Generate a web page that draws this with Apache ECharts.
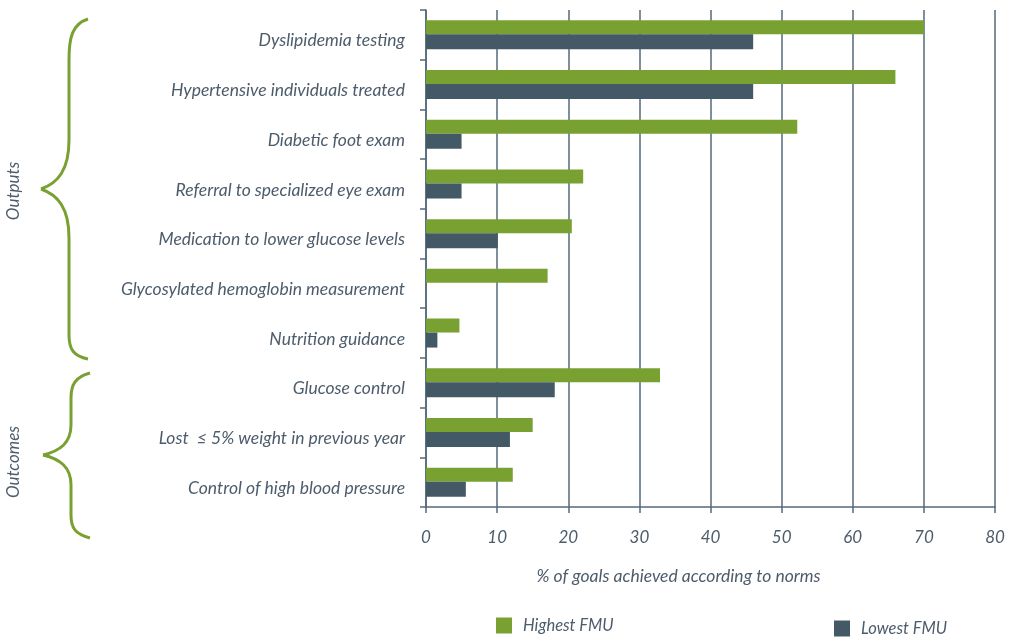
<!DOCTYPE html>
<html>
<head>
<meta charset="utf-8">
<script src="https://cdn.jsdelivr.net/npm/echarts@6/dist/echarts.min.js"></script>
<style>
html,body{margin:0;padding:0;background:#fff;}
#chart{width:1017px;height:638px;}
</style>
</head>
<body>
<div id="chart"></div>
<script>
const categories = [
  'Dyslipidemia testing',
  'Hypertensive individuals treated',
  'Diabetic foot exam',
  'Referral to specialized eye exam',
  'Medication to lower glucose levels',
  'Glycosylated hemoglobin measurement',
  'Nutrition guidance',
  'Glucose control',
  'Lost  \u2264 5% weight in previous year',
  'Control of high blood pressure'
];
const highestFMU = [70, 66, 52.2, 22.1, 20.5, 17.1, 4.7, 32.9, 15.0, 12.2];
const lowestFMU  = [46, 46, 5.0, 5.0, 10.1, 0, 1.6, 18.1, 11.8, 5.6];
const seriesNames = ['Highest FMU', 'Lowest FMU'];
const groupLabels = ['Outputs', 'Outcomes'];
const axisTitle = '% of goals achieved according to norms';

const GREEN = '#79a132';
const DARK = '#435966';
const TEXT = '#4d5c6b';
const LINE = '#55697a';
const FONT = 'Lato';

// brace decoration: segments [x1,y1, cpx1,cpy1, cpx2,cpy2, x2,y2] (curves) or [x1,y1,x2,y2] (lines)
function brace(segs) {
  return segs.map(s => s.length === 8
    ? {type: 'bezierCurve', shape: {x1: s[0], y1: s[1], cpx1: s[2], cpy1: s[3], cpx2: s[4], cpy2: s[5], x2: s[6], y2: s[7]},
       style: {fill: null, stroke: GREEN, lineWidth: 3}}
    : {type: 'line', shape: {x1: s[0], y1: s[1], x2: s[2], y2: s[3]},
       style: {stroke: GREEN, lineWidth: 3}});
}
const braceOutputs = brace([
  [88,19, 72,24, 69,38, 69,60],
  [69,60, 69,140],
  [69,140, 69,170, 58,183, 41,189],
  [41,189, 58,195, 69,208, 69,238],
  [69,238, 69,335],
  [69,335, 69,350, 74,356, 88,359]
]);
const braceOutcomes = brace([
  [90,373, 75,377, 71,385, 71,398],
  [71,398, 71,425],
  [71,425, 71,443, 60,451, 43,455],
  [43,455, 60,459, 71,467, 71,485],
  [71,485, 71,515],
  [71,515, 71,528, 75,534, 90,538]
]);

const chart = echarts.init(document.getElementById('chart'), null, {renderer:'canvas'});
chart.setOption({
  animation: false,
  textStyle: {fontFamily: FONT},
  grid: {left: 426, right: 22, top: 10, bottom: 131, containLabel: false},
  legend: [
    {data: [seriesNames[0]], left: 491, top: 612, padding: 5, icon: 'rect', itemWidth: 16, itemHeight: 16, itemGap: 10,
     textStyle: {color: TEXT, fontSize: 16.5, fontStyle: 'italic', fontFamily: FONT, padding: [0, 0, 0, 6]}},
    {data: [seriesNames[1]], left: 829, top: 615, padding: 5, icon: 'rect', itemWidth: 16, itemHeight: 16, itemGap: 10,
     textStyle: {color: TEXT, fontSize: 16.5, fontStyle: 'italic', fontFamily: FONT, padding: [0, 0, 0, 6]}}
  ],
  xAxis: {
    type: 'value', min: 0, max: 80, interval: 10,
    axisLine: {show: true, lineStyle: {color: LINE, width: 1.5}},
    axisTick: {show: true, length: 6, lineStyle: {color: LINE, width: 1.5}},
    splitLine: {show: true, lineStyle: {color: LINE, width: 1.5}},
    axisLabel: {color: TEXT, fontSize: 17, fontStyle: 'italic', margin: 22, fontFamily: FONT},
    name: axisTitle, nameLocation: 'middle', nameGap: 60,
    nameTextStyle: {color: TEXT, fontSize: 17.5, fontStyle: 'italic', padding: [0, 64, 0, 0], fontFamily: FONT}
  },
  yAxis: {
    type: 'category', data: categories, inverse: true,
    axisLine: {show: true, lineStyle: {color: LINE, width: 1.5}},
    axisTick: {show: true, length: 6, lineStyle: {color: LINE, width: 1.5}},
    axisLabel: {
      color: TEXT, fontSize: 17.5, fontStyle: 'italic', margin: 21, fontFamily: FONT,
      formatter: v => '{t|' + v + '}',
      rich: {t: {color: TEXT, fontSize: 17.5, fontStyle: 'italic', fontFamily: FONT, padding: [12, 0, 0, 0]}}
    }
  },
  series: [
    {name: seriesNames[0], type: 'bar', data: highestFMU, barWidth: 14, barGap: '0%',
     itemStyle: {color: GREEN}},
    {name: seriesNames[1], type: 'bar', data: lowestFMU, barWidth: 15, barGap: '0%',
     itemStyle: {color: DARK}}
  ],
  graphic: braceOutputs.concat(braceOutcomes, [
    {type: 'text', x: 14, y: 191, rotation: Math.PI/2,
     style: {text: groupLabels[0], fill: TEXT, font: 'italic 17px ' + FONT, align: 'center', verticalAlign: 'middle'}},
    {type: 'text', x: 14, y: 462, rotation: Math.PI/2,
     style: {text: groupLabels[1], fill: TEXT, font: 'italic 17px ' + FONT, align: 'center', verticalAlign: 'middle'}}
  ])
});
</script>
</body>
</html>
